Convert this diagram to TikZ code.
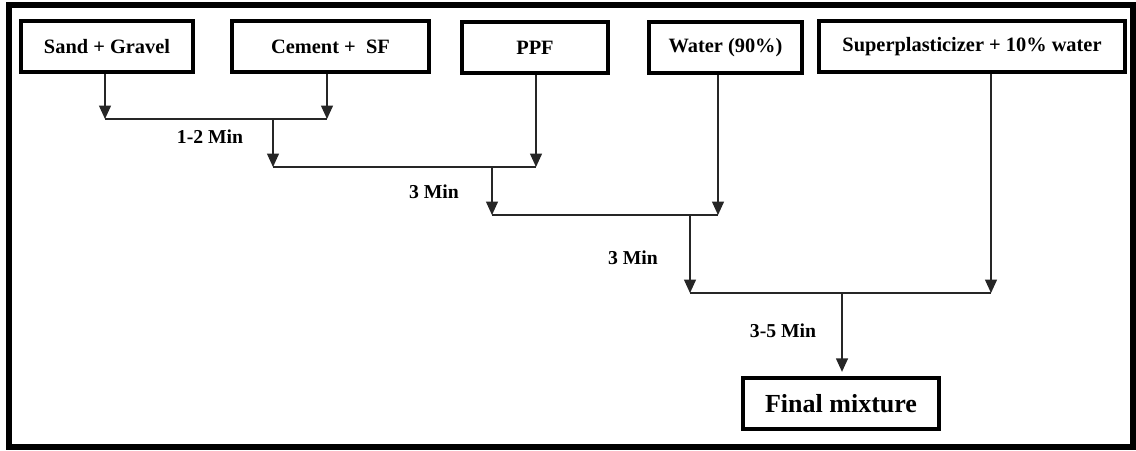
\documentclass[tikz,border=0pt]{standalone}
\usepackage{fontspec}
\setmainfont{Liberation Serif}
\usetikzlibrary{arrows.meta}

\begin{document}
\begin{tikzpicture}[x=0.025cm,y=-0.025cm,
   box/.style={draw,line width=2.8pt,minimum height=51*0.025cm,inner sep=0pt,
      font=\fontsize{14.5}{16}\selectfont\bfseries},
   lbl/.style={font=\fontsize{14}{16}\selectfont\bfseries},
   arr/.style={draw=black!85,line width=0.8pt,-{Triangle[width=8.5pt,length=9.5pt]}},
   ln/.style={draw=black!85,line width=0.8pt}]
   \useasboundingbox (0,0) rectangle (1136,451);
   \draw[line width=4.3pt] (9,5) rectangle (1133,447);
   % ingredients
   \node[box,minimum width=172*0.025cm] (sand) at (107,46.5) {Sand + Gravel};
   \node[box,minimum width=197*0.025cm] (cem)  at (330.5,46.5) {Cement +\ \ SF};
   \node[box,minimum width=146*0.025cm] (ppf)  at (535,47.5) {PPF};
   \node[box,minimum width=153*0.025cm] (wat)  at (725.5,47.5) {Water (90\%)};
   \node[box,minimum width=306*0.025cm] (sp)   at (972,46.5) {Superplasticizer + 10\% water};
   \node[box,minimum width=196*0.025cm,font=\fontsize{18.5}{20}\selectfont\bfseries]
        (fin) at (841,403.5) {Final mixture};
   % mixing steps
   \coordinate (a1) at (105,119);  \coordinate (b1) at (327,119);
   \coordinate (c1) at (273,119);
   \coordinate (a2) at (273,167);  \coordinate (b2) at (536,167);
   \coordinate (c2) at (492,167);
   \coordinate (a3) at (492,215);  \coordinate (b3) at (718,215);
   \coordinate (c3) at (690,215);
   \coordinate (a4) at (690,293);  \coordinate (b4) at (991,293);
   \coordinate (c4) at (842,293);
   \draw[arr] (sand.south -| a1) -- (a1);
   \draw[arr] (cem.south -| b1) -- (b1);
   \draw[ln] (a1) -- (b1);
   \draw[arr] (c1) -- (a2);
   \draw[arr] (ppf.south -| b2) -- (b2);
   \draw[ln] (a2) -- (b2);
   \draw[arr] (c2) -- (a3);
   \draw[arr] (wat.south -| b3) -- (b3);
   \draw[ln] (a3) -- (b3);
   \draw[arr] (c3) -- (a4);
   \draw[arr] (sp.south -| b4) -- (b4);
   \draw[ln] (a4) -- (b4);
   \draw[arr] (c4) -- ([yshift=3pt]fin.north -| c4);
   % times
   \node[lbl] (t1) at (210,137) {1-2 Min};
   \node[lbl] (t2) at (434,192) {3 Min};
   \node[lbl] (t3) at (633,258) {3 Min};
   \node[lbl] (t4) at (783,331) {3-5 Min};
\end{tikzpicture}
\end{document}
